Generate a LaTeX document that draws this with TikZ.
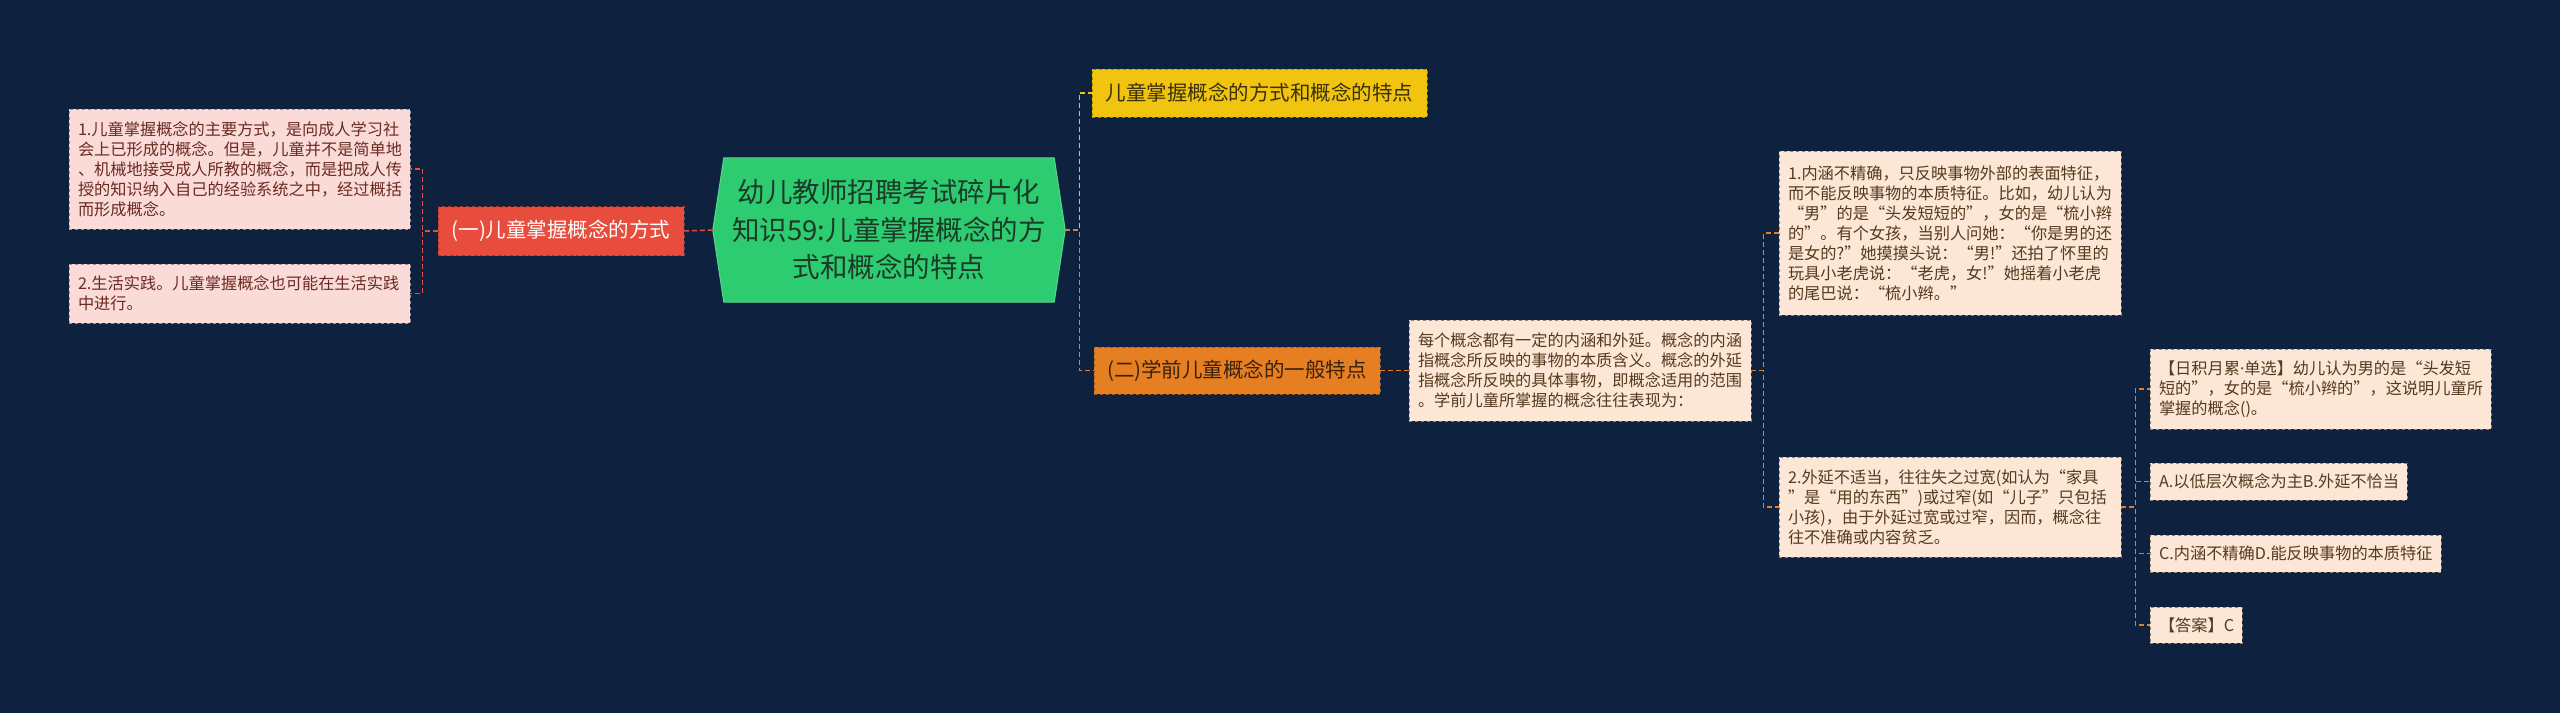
\documentclass[tikz,border=0pt]{standalone}
\usepackage{fontspec}
\setmainfont{Noto Sans CJK SC}
\newfontfamily\latinfont{Noto Sans}
\usetikzlibrary{calc,backgrounds}
\definecolor{bgc}{HTML}{0E2240}
\definecolor{rootFill}{HTML}{2ECC71}
\definecolor{rootText}{HTML}{1B3A28}
\definecolor{redFill}{HTML}{E74C3C}
\definecolor{redLine}{HTML}{E74C3C}
\definecolor{yelFill}{HTML}{F1C40F}
\definecolor{yelText}{HTML}{3A300A}
\definecolor{oraFill}{HTML}{E67E22}
\definecolor{oraText}{HTML}{3A220C}
\definecolor{pinkFill}{HTML}{FADBD8}
\definecolor{pinkText}{HTML}{6B2A22}
\definecolor{pinkBorder}{HTML}{B08A88}
\definecolor{peachFill}{HTML}{FCE6D6}
\definecolor{peachText}{HTML}{553A1E}
\definecolor{peachBorder}{HTML}{8E8378}
\tikzset{
  con/.style={line width=1.4pt, dash pattern=on 5pt off 3pt},
  conRed/.style={con, draw=redLine},
  conYel/.style={con, draw=yelFill},
  conOra/.style={con, draw=oraFill},
  rootbox/.style={minimum width=330pt, minimum height=144pt, text width=320pt,
    align=center, inner sep=0pt, text=rootText, font=\fontsize{27.5}{37.5}\selectfont},
  lvl/.style={draw, dashed, line width=0.8pt, inner sep=0pt, align=center,
    font=\fontsize{20.5}{25}\selectfont},
  lvlRed/.style={lvl, fill=redFill, draw=redFill!70!black, text=white},
  lvlYel/.style={lvl, fill=yelFill, draw=yelFill!70!black, text=yelText},
  lvlOra/.style={lvl, fill=oraFill, draw=oraFill!70!black, text=oraText},
  leaf/.style={draw, dashed, line width=0.8pt, inner xsep=9pt, inner ysep=0pt,
    align=left, font=\fontsize{16.2}{20}\selectfont},
  leafL/.style={leaf, fill=pinkFill, draw=pinkBorder, text=pinkText},
  leafR/.style={leaf, fill=peachFill, draw=peachBorder, text=peachText},
  sz/.style n args={2}{minimum width=#1pt, minimum height=#2pt, text width=#1pt-18pt},
}
\begin{document}
\begin{tikzpicture}[x=1pt,y=-1pt]
\begin{scope}[on background layer]
  \fill[bgc] (0,0) rectangle (2560,713);
\end{scope}
\useasboundingbox (0,0) rectangle (2560,713);

% root
\node[rootbox] (root) at (889,230) {幼儿教师招聘考试碎片化\\知识59:儿童掌握概念的方\\式和概念的特点};
\coordinate (rootL) at ($(root.west)+(-11,0)$);
\coordinate (rootR) at ($(root.east)+(11,0)$);
\begin{scope}[on background layer]
  \fill[rootFill, draw=rootFill!80!white, line width=1pt] (root.north west) -- (root.north east) -- (rootR) -- (root.south east) -- (root.south west) -- (rootL) -- cycle;
\end{scope}

% level 1
\node[lvlRed, minimum width=246pt, minimum height=49pt] (n1) at (561,231) {(一)儿童掌握概念的方式};
\node[lvlYel, minimum width=335pt, minimum height=48pt] (yel) at (1259.5,93) {儿童掌握概念的方式和概念的特点};
\node[lvlOra, minimum width=286pt, minimum height=47pt] (ora) at (1237,370.5) {(二)学前儿童概念的一般特点};

% left leaves
\node[leafL, sz={341}{120}] (l1) at (239.5,169) {1.儿童掌握概念的主要方式，是向成人学习社\\会上已形成的概念。但是，儿童并不是简单地\\、机械地接受成人所教的概念，而是把成人传\\授的知识纳入自己的经验系统之中，经过概括\\而形成概念。};
\node[leafL, sz={341}{59}] (l2) at (239.5,293.5) {2.生活实践。儿童掌握概念也可能在生活实践\\中进行。};

% right leaves
\node[leafR, sz={342}{101}] (desc) at (1580,370.5) {每个概念都有一定的内涵和外延。概念的内涵\\指概念所反映的事物的本质含义。概念的外延\\指概念所反映的具体事物，即概念适用的范围\\。学前儿童所掌握的概念往往表现为：};
\node[leafR, sz={342}{164}] (r1) at (1950,233) {1.内涵不精确，只反映事物外部的表面特征，\\而不能反映事物的本质特征。比如，幼儿认为\\“男”的是“头发短短的”，女的是“梳小辫\\的”。有个女孩，当别人问她：“你是男的还\\是女的?”她摸摸头说：“男!”还拍了怀里的\\玩具小老虎说：“老虎，女!”她摇着小老虎\\的尾巴说：“梳小辫。”};
\node[leafR, sz={342}{100}] (r2) at (1950,507) {2.外延不适当，往往失之过宽(如认为“家具\\”是“用的东西”)或过窄(如“儿子”只包括\\小孩)，由于外延过宽或过窄，因而，概念往\\往不准确或内容贫乏。};
\node[leafR, sz={341}{80}] (q) at (2320.5,389) {【日积月累{\latinfont ·}单选】幼儿认为男的是“头发短\\短的”，女的是“梳小辫的”，这说明儿童所\\掌握的概念()。};
\node[leafR, sz={257}{37}] (a) at (2278.5,481.5) {A.以低层次概念为主B.外延不恰当};
\node[leafR, sz={291}{37}] (c) at (2295.5,553.5) {C.内涵不精确D.能反映事物的本质特征};
\node[leafR, sz={92}{36}] (ans) at (2196,625) {【答案】C};

% connectors
\draw[conRed] (rootL) -- (n1.east);
\draw[conRed] (n1.west) -- ++(-15,0) |- (l1.east);
\draw[conRed] (n1.west) -- ++(-15,0) |- (l2.east);
\draw[conYel] (rootR) -- ++(14,0) |- (yel.west);
\draw[conOra] (rootR) -- ++(14,0) |- (ora.west);
\draw[conOra] (ora.east) -- (desc.west);
\draw[conOra] (desc.east) -- ++(12,0) |- (r1.west);
\draw[conOra] (desc.east) -- ++(12,0) |- (r2.west);
\draw[conOra] (r2.east) -- ++(14,0) |- (q.west);
\draw[conOra] (r2.east) -- ++(14,0) |- (a.west);
\draw[conOra] (r2.east) -- ++(14,0) |- (c.west);
\draw[conOra] (r2.east) -- ++(14,0) |- (ans.west);
\end{tikzpicture}
\end{document}
